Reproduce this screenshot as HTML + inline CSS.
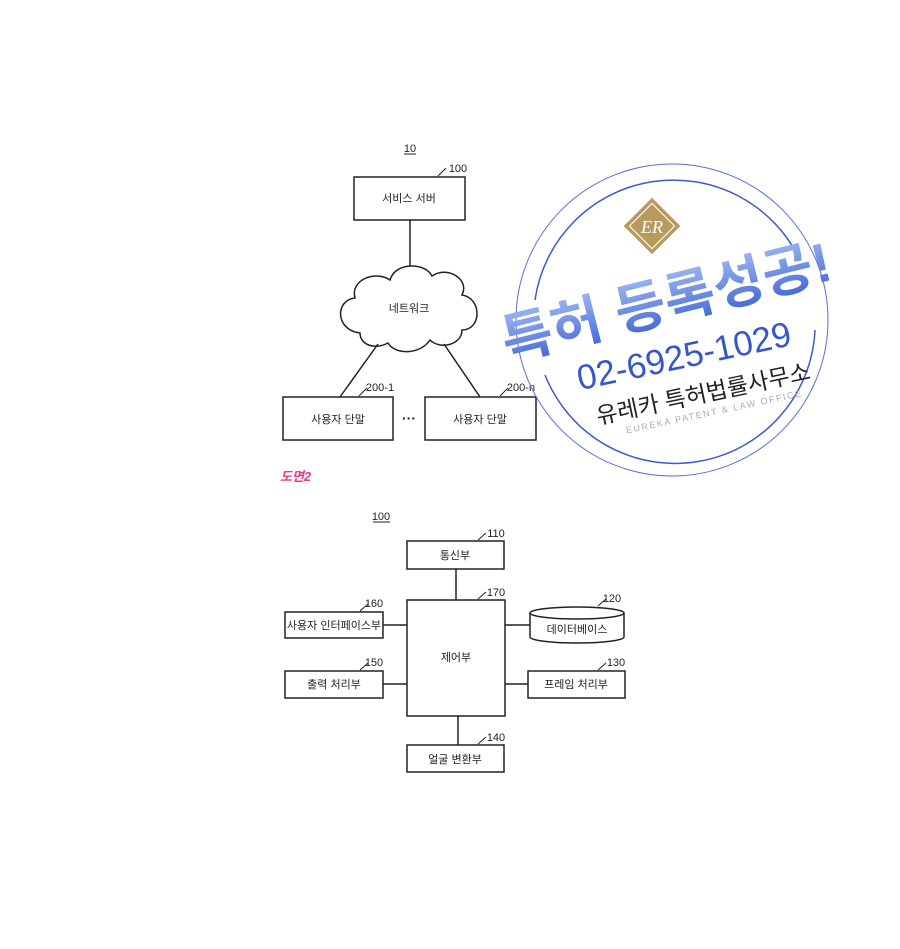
<!DOCTYPE html>
<html><head><meta charset="utf-8"><style>
html,body{margin:0;padding:0;background:#fff;}
svg{display:block;}
text{font-family:"Liberation Sans","Noto Sans CJK KR",sans-serif;fill:#222;}
</style></head><body>
<svg width="900" height="949" viewBox="0 0 900 949" xmlns="http://www.w3.org/2000/svg">
<defs>
<linearGradient id="g" x1="0" y1="0" x2="0" y2="1">
<stop offset="0" stop-color="#9fb8f0"/><stop offset="1" stop-color="#3d63d6"/>
</linearGradient>
</defs>
<g stroke="#222" fill="none" stroke-width="1.5">
<rect x="354" y="177" width="111" height="43"/>
<line x1="410" y1="220" x2="410" y2="268"/>
<path d="M360,333 C335,330 335,300 355,298 C350,280 375,270 390,280 C395,262 425,262 432,276 C448,265 470,280 462,295 C482,298 482,330 462,330 C462,345 440,350 430,340 C420,355 395,355 388,343 C375,350 360,345 360,333 Z" fill="#fff"/>
<line x1="378" y1="344" x2="340" y2="397"/>
<line x1="444" y1="344" x2="480" y2="397"/>
<rect x="283" y="397" width="110" height="43"/>
<rect x="425" y="397" width="111" height="43"/>
<line x1="438" y1="176" x2="446" y2="168" stroke-width="1"/>
<line x1="359" y1="396" x2="367" y2="388" stroke-width="1"/>
<line x1="500" y1="396" x2="508" y2="388" stroke-width="1"/>
<rect x="407" y="541" width="97" height="28"/>
<line x1="456" y1="569" x2="456" y2="600"/>
<rect x="407" y="600" width="98" height="116"/>
<rect x="285" y="612" width="98" height="26"/>
<line x1="383" y1="625" x2="407" y2="625"/>
<rect x="285" y="671" width="98" height="27"/>
<line x1="383" y1="684" x2="407" y2="684"/>
<path d="M530,613 L530,637 A47,6 0 0 0 624,637 L624,613"/>
<ellipse cx="577" cy="613" rx="47" ry="6"/>
<line x1="505" y1="625" x2="530" y2="625"/>
<rect x="528" y="671" width="97" height="27"/>
<line x1="505" y1="684" x2="528" y2="684"/>
<rect x="407" y="745" width="97" height="27"/>
<line x1="458" y1="716" x2="458" y2="745"/>
<g stroke-width="1">
<line x1="478" y1="540" x2="486" y2="533"/>
<line x1="478" y1="599" x2="486" y2="592"/>
<line x1="360" y1="611" x2="368" y2="604"/>
<line x1="360" y1="670" x2="368" y2="663"/>
<line x1="598" y1="606" x2="606" y2="599"/>
<line x1="598" y1="670" x2="606" y2="663"/>
<line x1="478" y1="744" x2="486" y2="737"/>
</g>
<line x1="404" y1="154" x2="416" y2="154" stroke-width="1"/>
<line x1="373" y1="522" x2="390" y2="522" stroke-width="1"/>
</g>
<g font-size="11" text-anchor="middle">
<text x="410" y="152">10</text>
<text x="458" y="172">100</text>
<text x="409" y="202">서비스 서버</text>
<text x="409" y="312">네트워크</text>
<text x="380" y="391">200-1</text>
<text x="521" y="391">200-n</text>
<text x="338" y="423">사용자 단말</text>
<text x="480" y="423">사용자 단말</text>
<text x="409" y="423" font-weight="bold" font-size="14">···</text>
<text x="381" y="520">100</text>
<text x="496" y="537">110</text>
<text x="455" y="559">통신부</text>
<text x="496" y="596">170</text>
<text x="456" y="661">제어부</text>
<text x="374" y="607">160</text>
<text x="334" y="629">사용자 인터페이스부</text>
<text x="374" y="666">150</text>
<text x="334" y="688">출력 처리부</text>
<text x="612" y="602">120</text>
<text x="577" y="633">데이터베이스</text>
<text x="616" y="666">130</text>
<text x="576" y="688">프레임 처리부</text>
<text x="496" y="741">140</text>
<text x="455" y="763">얼굴 변환부</text>
</g>
<text x="280" y="481" font-size="13" font-style="italic" font-weight="bold" style="fill:#e8388a">도면2</text>
<circle cx="672" cy="320" r="156" fill="none" stroke="#5570d8" stroke-width="1"/>
<path d="M535,300 A140,140 0 0 1 800,260" fill="none" stroke="#3a5ad0" stroke-width="1.5"/>
<path d="M545,375 A140,140 0 0 0 815,330" fill="none" stroke="#3a5ad0" stroke-width="1.5"/>
<g transform="translate(652,226) rotate(45)">
<rect x="-20" y="-20" width="40" height="40" fill="#b89a5e"/>
<rect x="-16" y="-16" width="32" height="32" fill="none" stroke="#fff" stroke-width="1"/>
</g>
<text x="652" y="233" font-size="18" text-anchor="middle" font-style="italic" style="fill:#fff;font-family:'Liberation Serif',serif">ER</text>
<g transform="rotate(-14 668 300)">
<text x="666" y="320" font-size="55" font-weight="bold" text-anchor="middle" style="fill:url(#g)">특허 등록성공!</text>
</g>
<g transform="rotate(-12 668 300)">
<text x="672" y="370" font-size="35" text-anchor="middle" style="fill:#3557cc">02-6925-1029</text>
<text x="683" y="407" font-size="23" text-anchor="middle" style="fill:#222">유레카 특허법률사무소</text>
<text x="690" y="422" font-size="9" letter-spacing="1.6" text-anchor="middle" style="fill:#aaa">EUREKA PATENT &amp; LAW OFFICE</text>
</g>
</svg>
</body></html>
